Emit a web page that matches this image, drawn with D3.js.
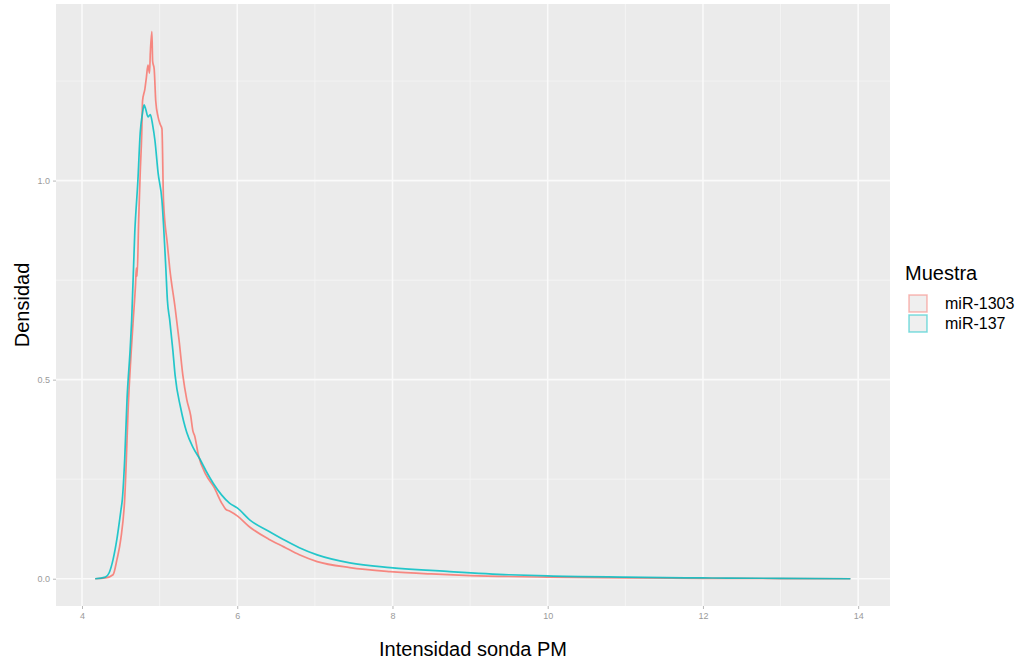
<!DOCTYPE html>
<html>
<head>
<meta charset="utf-8">
<script src="https://cdn.jsdelivr.net/npm/d3@7"></script>
<style>
  body { margin: 0; background: #fff; }
  text { font-family: "Liberation Sans", Arial, sans-serif; }
</style>
</head>
<body>
<div id="chart"></div>
<script>
// series names and colours (ggplot defaults)
let samples = ["miR-1303", "miR-137"];
let colors = ["#F8766D", "#00BFC4"];

// miR-1303 density curve
let x1303 = [4.17, 4.3, 4.4, 4.45, 4.5, 4.55, 4.6, 4.66, 4.69, 4.70, 4.71, 4.73, 4.75, 4.77, 4.78, 4.81, 4.83, 4.85, 4.87, 4.88, 4.90, 4.91, 4.93, 4.95, 4.98, 5.01, 5.03, 5.05, 5.1, 5.13, 5.2, 5.25, 5.3, 5.35, 5.4, 5.43, 5.45, 5.5, 5.6, 5.7, 5.8, 5.85, 5.9, 6.0, 6.16, 6.4, 6.6, 6.8, 7.03, 7.45, 7.97, 8.5, 9, 10, 11, 12, 13, 13.9];
let d1303 = [0, 0.002, 0.01, 0.048, 0.1, 0.2, 0.45, 0.65, 0.74, 0.78, 0.76, 0.9, 1.02, 1.12, 1.2, 1.23, 1.26, 1.29, 1.27, 1.32, 1.374, 1.30, 1.28, 1.2, 1.16, 1.14, 1.13, 0.95, 0.84, 0.78, 0.68, 0.6, 0.51, 0.45, 0.41, 0.37, 0.36, 0.31, 0.26, 0.23, 0.19, 0.175, 0.17, 0.158, 0.13, 0.1, 0.08, 0.06, 0.043, 0.028, 0.018, 0.012, 0.008, 0.004, 0.002, 0.001, 0.0005, 0];

// miR-137 density curve
let x137 = [4.17, 4.3, 4.35, 4.4, 4.45, 4.5, 4.52, 4.55, 4.58, 4.62, 4.64, 4.68, 4.72, 4.75, 4.78, 4.80, 4.82, 4.85, 4.88, 4.91, 4.94, 4.98, 5.03, 5.08, 5.10, 5.13, 5.17, 5.2, 5.27, 5.35, 5.43, 5.52, 5.6, 5.69, 5.8, 5.9, 6.0, 6.16, 6.4, 6.6, 6.8, 7.03, 7.45, 7.97, 8.74, 9.5, 10, 11, 12, 13, 13.9];
let d137 = [0, 0.004, 0.015, 0.048, 0.1, 0.17, 0.2, 0.3, 0.45, 0.575, 0.65, 0.87, 1.0, 1.12, 1.17, 1.19, 1.18, 1.16, 1.166, 1.14, 1.10, 1.02, 0.95, 0.78, 0.70, 0.65, 0.575, 0.51, 0.43, 0.367, 0.33, 0.30, 0.27, 0.24, 0.21, 0.19, 0.178, 0.148, 0.12, 0.098, 0.078, 0.06, 0.04, 0.028, 0.018, 0.01, 0.007, 0.004, 0.002, 0.001, 0];

let xTicks = [4, 6, 8, 10, 12, 14];
let xMinor = [5, 7, 9, 11, 13];
let yTicks = [0, 0.5, 1.0];
let yMinor = [0.25, 0.75, 1.25];

let series = [
    { name: samples[0], color: colors[0], pts: x1303.map((x, i) => ({ x: x, y: d1303[i] })) },
    { name: samples[1], color: colors[1], pts: x137.map((x, i) => ({ x: x, y: d137[i] })) }
];

let W = 1034, H = 663;
let pLeft = 56, pRight = 890, pTop = 4, pBottom = 606;

let xScale = d3.scaleLinear().domain([3.665, 14.41]).range([pLeft, pRight]);
let yScale = d3.scaleLinear().domain([-0.0685, 1.4435]).range([pBottom, pTop]);

let svg = d3.select("#chart").append("svg")
    .attr("width", W)
    .attr("height", H);

// panel background
svg.append("rect")
    .attr("x", pLeft).attr("y", pTop)
    .attr("width", pRight - pLeft).attr("height", pBottom - pTop)
    .attr("fill", "#EBEBEB");

let grid = svg.append("g");
grid.selectAll(".xminor").data(xMinor).enter().append("line")
    .attr("x1", d => xScale(d)).attr("x2", d => xScale(d))
    .attr("y1", pTop).attr("y2", pBottom)
    .attr("stroke", "#F6F6F6").attr("stroke-width", 0.8);
grid.selectAll(".yminor").data(yMinor).enter().append("line")
    .attr("y1", d => yScale(d)).attr("y2", d => yScale(d))
    .attr("x1", pLeft).attr("x2", pRight)
    .attr("stroke", "#F6F6F6").attr("stroke-width", 0.8);
grid.selectAll(".xmajor").data(xTicks).enter().append("line")
    .attr("x1", d => xScale(d)).attr("x2", d => xScale(d))
    .attr("y1", pTop).attr("y2", pBottom)
    .attr("stroke", "#FAFAFA").attr("stroke-width", 1.6);
grid.selectAll(".ymajor").data(yTicks).enter().append("line")
    .attr("y1", d => yScale(d)).attr("y2", d => yScale(d))
    .attr("x1", pLeft).attr("x2", pRight)
    .attr("stroke", "#FAFAFA").attr("stroke-width", 1.6);

// axes
let xAxis = d3.axisBottom(xScale).tickValues(xTicks).tickSize(3).tickPadding(4)
    .tickFormat(d3.format("d"));
let yAxis = d3.axisLeft(yScale).tickValues(yTicks).tickSize(3).tickPadding(3)
    .tickFormat(d3.format(".1f"));

let gx = svg.append("g").attr("transform", `translate(0, ${pBottom})`).call(xAxis);
let gy = svg.append("g").attr("transform", `translate(${pLeft}, 0)`).call(yAxis);
[gx, gy].forEach(g => {
    g.select(".domain").remove();
    g.selectAll(".tick line").attr("stroke", "#B8B8B8");
    g.selectAll(".tick text").attr("fill", "#9A9A9A").style("font-size", "9px");
});

// density lines
let line = d3.line()
    .x(d => xScale(d.x))
    .y(d => yScale(d.y))
    .curve(d3.curveMonotoneX);
svg.selectAll(".dens").data(series).enter().append("path")
    .attr("d", d => line(d.pts))
    .attr("fill", "none")
    .attr("stroke", d => d.color)
    .attr("stroke-opacity", 0.85)
    .attr("stroke-width", 1.7)
    .attr("stroke-linejoin", "round");

// axis titles
svg.append("text")
    .attr("x", (pLeft + pRight) / 2).attr("y", 656)
    .attr("text-anchor", "middle")
    .style("font-size", "20px")
    .text("Intensidad sonda PM");

svg.append("text")
    .attr("transform", `translate(29, ${(pTop + pBottom) / 2}) rotate(-90)`)
    .attr("text-anchor", "middle")
    .style("font-size", "20px")
    .text("Densidad");

// legend
let legend = svg.append("g").attr("transform", "translate(905, 272)");
legend.append("text")
    .attr("x", 0).attr("y", 8)
    .style("font-size", "20px")
    .text("Muestra");
let items = legend.selectAll(".item").data(series).enter().append("g")
    .attr("transform", (d, i) => `translate(0, ${22 + i * 20})`);
items.append("rect")
    .attr("x", 4).attr("y", 1)
    .attr("width", 18).attr("height", 17)
    .attr("fill", "#EFEFEF")
    .attr("stroke", d => d.color)
    .attr("stroke-opacity", 0.5)
    .attr("stroke-width", 1.5);
items.append("text")
    .attr("x", 40).attr("y", 15)
    .style("font-size", "16px")
    .text(d => d.name);
</script>
</body>
</html>
